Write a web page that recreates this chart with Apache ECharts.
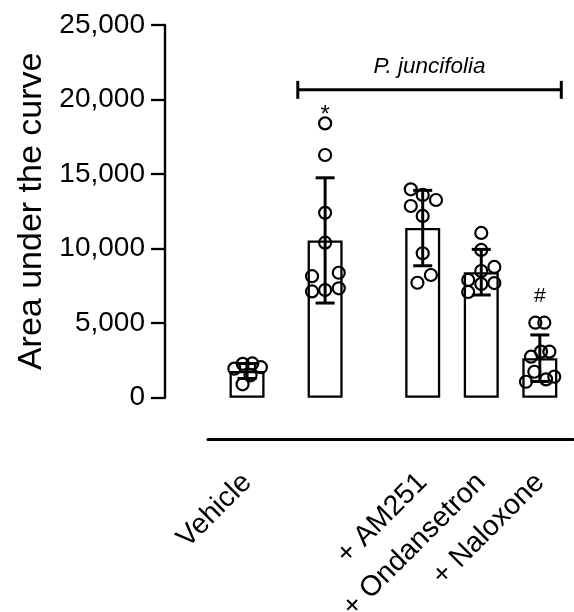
<!DOCTYPE html>
<html>
<head>
<meta charset="utf-8">
<script src="https://cdn.jsdelivr.net/npm/echarts@6.0.0/dist/echarts.min.js"></script>
<style>
  html, body { margin: 0; padding: 0; background: #fff; }
  #chart { width: 574px; height: 612px; }
</style>
</head>
<body>
<div id="chart"></div>
<script>
// groups, in slot units along x
const categories = ['Vehicle', '', '+ AM251', '+ Ondansetron', '+ Naloxone']
const positions = [0, 4, 9, 12, 15]
const means = [1790, 10550, 11380, 8420, 2650]
const sds = [500, 4200, 2530, 1530, 1560]

// individual animals [x, AUC]
const vehiclePts = [[-0.65, 1950], [-0.22, 2270], [0.27, 2300], [0.71, 2045], [0.18, 1500], [-0.23, 900]]
const juncifoliaPts = [[4, 18400], [4, 16280], [4, 12400], [4, 10400], [3.33, 8150], [4.7, 8380], [3.33, 7130], [4, 7220], [4.7, 7340]]
const am251Pts = [[8.39, 13980], [9, 13600], [9.68, 13260], [8.39, 12860], [9, 12190], [9, 9690], [9.42, 8230], [8.73, 7710]]
const ondansetronPts = [[12, 11050], [12, 9910], [12, 8500], [12.67, 8770], [11.33, 7900], [12, 7630], [12.67, 7690], [11.33, 7090]]
const naloxonePts = [[14.77, 5030], [15.23, 5030], [14.55, 2750], [15.06, 3090], [15.49, 3090], [14.72, 1740], [15.32, 1230], [15.74, 1410], [14.29, 1070]]

const yTicks = [0, 5000, 10000, 15000, 20000, 25000]

// bracket over treated groups
const bracketFrom = 2.6
const bracketTo = 16.1
const bracketY = 20650
const bracketText = 'P. juncifolia'

// significance marks
const sigX = [4, 15]
const sigY = [18950, 6820]
const sigText = ['*', '#']

const font = '"Liberation Sans", Arial, sans-serif'
const chart = echarts.init(document.getElementById('chart'))

const allPts = [].concat(vehiclePts, juncifoliaPts, am251Pts, ondansetronPts, naloxonePts)

const option = {
  animation: false,
  grid: { left: 208, right: 1, top: 25, bottom: 214.3, containLabel: false, outerBoundsMode: 'none' },
  xAxis: {
    type: 'value',
    min: -2,
    max: 16.7,
    interval: 1,
    offset: 41.3,
    axisLine: { show: true, onZero: false, lineStyle: { color: '#000', width: 3 } },
    axisTick: { show: false },
    splitLine: { show: false },
    axisLabel: {
      rotate: 45,
      margin: 39,
      color: '#000',
      fontFamily: font,
      fontSize: 28.5,
      showMinLabel: true,
      showMaxLabel: true,
      formatter: v => {
        const i = positions.indexOf(Math.round(v * 100) / 100)
        return i >= 0 ? categories[i] : ''
      }
    }
  },
  yAxis: {
    type: 'value',
    min: yTicks[0],
    max: yTicks[yTicks.length - 1],
    interval: 5000,
    offset: 43,
    name: 'Area under the curve',
    nameLocation: 'middle',
    nameRotate: 90,
    nameGap: 116,
    nameTextStyle: { color: '#000', fontFamily: font, fontSize: 34 },
    axisLine: { show: true, onZero: false, lineStyle: { color: '#000', width: 2.4 } },
    axisTick: { show: true, length: 14, lineStyle: { color: '#000', width: 2.3 } },
    splitLine: { show: false },
    axisLabel: {
      margin: 20,
      color: '#000',
      fontFamily: font,
      fontSize: 28,
      formatter: v => v.toLocaleString('en-US')
    }
  },
  series: [
    {
      type: 'bar',
      barWidth: 35,
      silent: true,
      data: positions.map((x, i) => [x, means[i]]),
      itemStyle: { color: 'rgba(0,0,0,0)', borderColor: '#000', borderWidth: 2.3 }
    },
    {
      type: 'scatter',
      silent: true,
      symbol: 'circle',
      symbolSize: 12,
      data: allPts,
      itemStyle: { color: 'rgba(0,0,0,0)', borderColor: '#000', borderWidth: 2.2, opacity: 1 },
      z: 3
    },
    {
      // mean +/- SD
      type: 'custom',
      silent: true,
      data: positions.map((x, i) => [x, means[i], sds[i]]),
      renderItem: (params, api) => {
        const x = api.value(0), m = api.value(1), s = api.value(2)
        const top = api.coord([x, m + s])
        const bot = api.coord([x, m - s])
        const half = 9.5
        const st = { stroke: '#000', lineWidth: 3 }
        return {
          type: 'group',
          children: [
            { type: 'line', shape: { x1: top[0], y1: top[1], x2: bot[0], y2: bot[1] }, style: st },
            { type: 'line', shape: { x1: top[0] - half, y1: top[1], x2: top[0] + half, y2: top[1] }, style: st },
            { type: 'line', shape: { x1: bot[0] - half, y1: bot[1], x2: bot[0] + half, y2: bot[1] }, style: st }
          ]
        }
      },
      z: 4
    },
    {
      // bracket with label
      type: 'custom',
      silent: true,
      data: [[bracketFrom, bracketTo, bracketY]],
      renderItem: (params, api) => {
        const a = api.coord([api.value(0), api.value(2)])
        const b = api.coord([api.value(1), api.value(2)])
        const st = { stroke: '#000', lineWidth: 3 }
        return {
          type: 'group',
          children: [
            { type: 'line', shape: { x1: a[0], y1: a[1], x2: b[0], y2: b[1] }, style: st },
            { type: 'line', shape: { x1: a[0], y1: a[1] - 9, x2: a[0], y2: a[1] + 9 }, style: st },
            { type: 'line', shape: { x1: b[0], y1: b[1] - 9, x2: b[0], y2: b[1] + 9 }, style: st },
            {
              type: 'text',
              style: {
                x: (a[0] + b[0]) / 2, y: a[1] - 12,
                text: bracketText,
                fill: '#000',
                font: 'italic 22.5px ' + font,
                align: 'center',
                verticalAlign: 'bottom'
              }
            }
          ]
        }
      },
      z: 5
    },
    {
      type: 'custom',
      silent: true,
      data: sigX.map((x, i) => [x, sigY[i]]),
      renderItem: (params, api) => {
        const p = api.coord([api.value(0), api.value(1)])
        return {
          type: 'text',
          style: {
            x: p[0], y: p[1],
            text: sigText[params.dataIndex],
            fill: '#000',
            font: (params.dataIndex === 0 ? 24 : 21) + 'px ' + font,
            align: 'center',
            verticalAlign: 'middle'
          }
        }
      },
      z: 5
    }
  ]
}

chart.setOption(option)
</script>
</body>
</html>
